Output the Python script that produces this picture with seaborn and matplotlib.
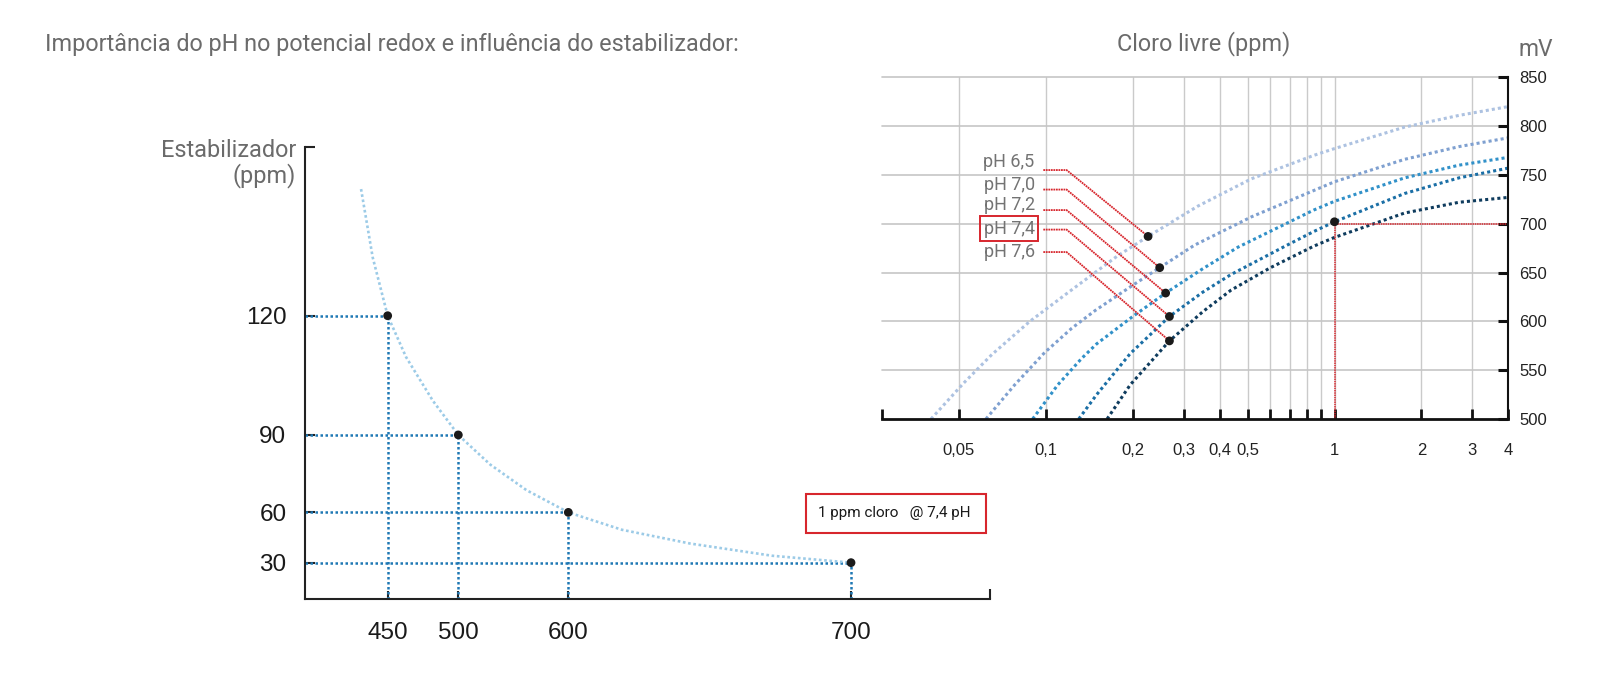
import numpy as np
import pandas as pd
import matplotlib
matplotlib.use("Agg")
import matplotlib.pyplot as plt
from matplotlib.patches import Rectangle
from matplotlib.ticker import FixedLocator, NullFormatter
import seaborn as sns

sns.set_theme(style="white")
plt.rcParams['font.family'] = ['Liberation Sans', 'DejaVu Sans']

# ---- left chart: stabilizer (ppm) vs mV, 1 ppm chlorine @ pH 7,4
stab_mv = [450, 500, 600, 700]
stab_ppm = [120, 90, 60, 30]
curve_mv = [434, 441, 450, 463, 482, 500, 529, 562, 600, 619, 643, 672, 700]
curve_ppm = [142, 131, 120, 111, 100, 90, 80, 70, 60, 51, 43, 35, 30]

# ---- right chart: free chlorine (ppm) vs mV for each pH
ph_labels = ["pH 6,5", "pH 7,0", "pH 7,2", "pH 7,4", "pH 7,6"]
cl_65 = [0.040, 0.052, 0.065, 0.088, 0.12, 0.148, 0.177, 0.226, 0.336, 0.515, 0.847, 1.0, 1.75, 2.7, 4.0]
mv_65 = [500, 537, 566, 600, 630, 650, 667, 687, 718, 746, 770, 777, 799, 811, 820]
cl_70 = [0.062, 0.078, 0.099, 0.123, 0.148, 0.2, 0.248, 0.327, 0.515, 0.847, 1.0, 1.75, 2.7, 4.0]
mv_70 = [500, 535, 568, 593, 611, 637, 655, 678, 707, 734, 743, 766, 779, 788]
cl_72 = [0.090, 0.110, 0.133, 0.15, 0.2, 0.26, 0.35, 0.463, 0.847, 1.0, 1.75, 2.7, 4.0]
mv_72 = [500, 535, 562, 577, 605, 629, 654, 676, 714, 723, 747, 760, 768]
cl_74 = [0.13, 0.15, 0.196, 0.268, 0.35, 0.438, 0.674, 0.847, 1.0, 1.75, 2.7, 4.0]
mv_74 = [500, 525, 567, 605, 630, 648, 677, 692, 702, 731, 747, 757]
cl_76 = [0.163, 0.196, 0.268, 0.35, 0.438, 0.6, 0.847, 1.0, 1.75, 2.7, 4.0]
mv_76 = [500, 535, 580, 610, 632, 655, 677, 686, 711, 722, 727]

dot_cl = [0.226, 0.248, 0.26, 0.268, 0.268]
dot_mv = [687, 655, 629, 605, 580]
ref_cl = 1.0
ref_mv = 702

x_ticks = [0.05, 0.1, 0.2, 0.3, 0.4, 0.5, 1, 2, 3, 4]
x_ticklabels = ["0,05", "0,1", "0,2", "0,3", "0,4", "0,5", "1", "2", "3", "4"]
x_minor = [0.6, 0.7, 0.8, 0.9]
y_ticks = [500, 550, 600, 650, 700, 750, 800, 850]

ph_colors = ["#adc2e1", "#7fa0d0", "#3191c9", "#1b6fa6", "#0f3c5e"]
red = "#d7262d"
gray_txt = "#6b6b6b"
drop_blue = "#1f78b4"
curve_blue = "#9ccbe7"
sans = ["Roboto", "DejaVu Sans"]

W, H = 1613, 684
fig = plt.figure(figsize=(W / 100, H / 100), dpi=100)

# ---------------- left chart ----------------
ax1 = fig.add_axes([304.5 / W, 1 - 598.7 / H, 685.1 / W, 451.7 / H])
ax1.set_facecolor("none")
x_anchor = [400, 450, 500, 600, 700, 750]
x_frac = [0, 0.1214, 0.2245, 0.3851, 0.7977, 1]
ax1.set_xscale("function", functions=(lambda v: np.interp(v, x_anchor, x_frac),
                                      lambda p: np.interp(p, x_frac, x_anchor)))
ax1.set_yscale("function", functions=(lambda v: np.exp(v / 69.5),
                                      lambda p: 69.5 * np.log(np.clip(p, 1e-9, None))))
ax1.set_xlim(400, 750)
ax1.set_ylim(-4, 148)

for mv, ppm in zip(stab_mv, stab_ppm):
    ax1.plot([400, mv], [ppm, ppm], color=drop_blue, lw=1.8, ls=(0, (1, 1)))
    ax1.plot([mv, mv], [-4, ppm], color=drop_blue, lw=1.8, ls=(0, (1, 1)))

sns.lineplot(x=curve_mv, y=curve_ppm, ax=ax1, color=curve_blue, lw=1.9,
             sort=False, estimator=None)
ax1.lines[-1].set_linestyle((0, (1, 1)))
sns.scatterplot(x=stab_mv, y=stab_ppm, ax=ax1, color="#1a1a1a", s=40,
                edgecolor="none", zorder=5)

for s in ["top", "right"]:
    ax1.spines[s].set_visible(False)
for s in ["left", "bottom"]:
    ax1.spines[s].set_color("#222222")
    ax1.spines[s].set_linewidth(1.5)

ax1.set_xticks(stab_mv)
ax1.set_xticklabels([str(v) for v in stab_mv])
ax1.set_yticks(stab_ppm)
ax1.set_yticklabels([str(v) for v in stab_ppm])
ax1.xaxis.set_minor_locator(FixedLocator([750]))
ax1.yaxis.set_minor_locator(FixedLocator([148]))
ax1.tick_params(axis="x", which="major", direction="in", length=6, width=1.5,
                labelsize=17.5, pad=17, colors="#222222", labelcolor="#1a1a1a",
                bottom=True)
ax1.tick_params(axis="y", which="major", direction="in", length=7, width=1.5,
                labelsize=17.5, pad=13, colors="#222222", labelcolor="#1a1a1a",
                left=True)
ax1.tick_params(which="minor", direction="in", length=7, width=1.5, colors="#222222",
                bottom=True, left=True)

# ---------------- right chart ----------------
ax2 = fig.add_axes([881.7 / W, 1 - 419 / H, 626.6 / W, 341.7 / H])
ax2.set_facecolor("none")
ax2.set_xscale("log")
ax2.set_xlim(0.027, 4)
ax2.set_ylim(500, 850)

for v in x_ticks[:-1] + x_minor:
    ax2.axvline(v, color="#cacaca", lw=1.0, zorder=0)
for v in y_ticks[1:]:
    ax2.axhline(v, color="#c6c6c6", lw=1.2, zorder=0, clip_on=False)

curves = pd.concat([
    pd.DataFrame({"cl": c, "mv": m, "ph": lab})
    for c, m, lab in zip([cl_65, cl_70, cl_72, cl_74, cl_76],
                         [mv_65, mv_70, mv_72, mv_74, mv_76], ph_labels)
])
sns.lineplot(data=curves, x="cl", y="mv", hue="ph", palette=ph_colors, ax=ax2,
             lw=2.2, sort=False, estimator=None, legend=False)
for ln in ax2.lines[-5:]:
    ln.set_linestyle((0, (1, 1)))

# reference lines at 1 ppm / 700 mV
ax2.plot([ref_cl, ref_cl], [500, ref_mv], color=red, lw=1.1, ls=(0, (1, 0.5)))
ax2.plot([ref_cl, 4], [700, 700], color=red, lw=1.1, ls=(0, (1, 0.5)), clip_on=False)

# pH labels with leader lines
label_y = [763, 740, 719, 695, 671]
lead_y = [755, 735, 714, 694, 671]
for i, lab in enumerate(ph_labels):
    ax2.plot([0.098, 0.118, dot_cl[i]], [lead_y[i], lead_y[i], dot_mv[i]],
             color=red, lw=1.3, ls=(0, (1, 0.4)))
    t = ax2.text(0.0915, label_y[i], lab, ha="right", va="center", fontsize=13,
                 color="#737373", family=sans)
    if lab == "pH 7,4":
        t.set_bbox(dict(boxstyle="square,pad=0.18", fc="none", ec=red, lw=1.4))

sns.scatterplot(x=dot_cl + [ref_cl], y=dot_mv + [ref_mv], ax=ax2, color="#1a1a1a",
                s=40, edgecolor="none", zorder=6)

for s in ["top", "left"]:
    ax2.spines[s].set_visible(False)
ax2.spines["right"].set_color("#111111")
ax2.spines["right"].set_linewidth(1.5)
ax2.spines["bottom"].set_color("#111111")
ax2.spines["bottom"].set_linewidth(2.0)

ax2.yaxis.tick_right()
ax2.set_yticks(y_ticks)
ax2.set_yticklabels([str(v) for v in y_ticks])
ax2.set_xticks(x_ticks)
ax2.set_xticklabels(x_ticklabels)
ax2.xaxis.set_minor_locator(FixedLocator([0.027] + x_minor))
ax2.xaxis.set_minor_formatter(NullFormatter())
ax2.tick_params(axis="y", direction="in", length=7, width=2.2, labelsize=12,
                pad=8, colors="#111111", labelcolor="#222222", right=True, left=False)
ax2.tick_params(axis="x", which="both", direction="in", length=7, width=2.0,
                labelsize=12, pad=17, colors="#111111", labelcolor="#222222", bottom=True)
ax2.set_xlabel("")
ax2.set_ylabel("")

# ---------------- figure texts ----------------
fig.text(45 / W, 1 - 44 / H, "Importância do pH no potencial redox e influência do estabilizador:",
         fontsize=16.8, color=gray_txt, va="center", ha="left", family=sans)
fig.text(296 / W, 1 - 163.5 / H, "Estabilizador\n(ppm)", fontsize=16.9, color=gray_txt,
         ha="right", va="center", ma="right", linespacing=1.05, family=sans)
fig.text(1203.6 / W, 1 - 44 / H, "Cloro livre (ppm)", fontsize=16.8, color=gray_txt,
         ha="center", va="center", family=sans)
fig.text(1535.5 / W, 1 - 49.4 / H, "mV", fontsize=16.5, color=gray_txt,
         ha="center", va="center", family=sans)

fig.patches.append(Rectangle((805.5 / W, 1 - 532.9 / H), 180 / W, 39.1 / H,
                             transform=fig.transFigure, fill=False, ec=red, lw=1.5))
fig.text(818 / W, 1 - 513.5 / H, "1 ppm cloro   @ 7,4 pH", fontsize=11, color="#1a1a1a",
         ha="left", va="center", family=sans)

fig.savefig("out.png", dpi=100)
